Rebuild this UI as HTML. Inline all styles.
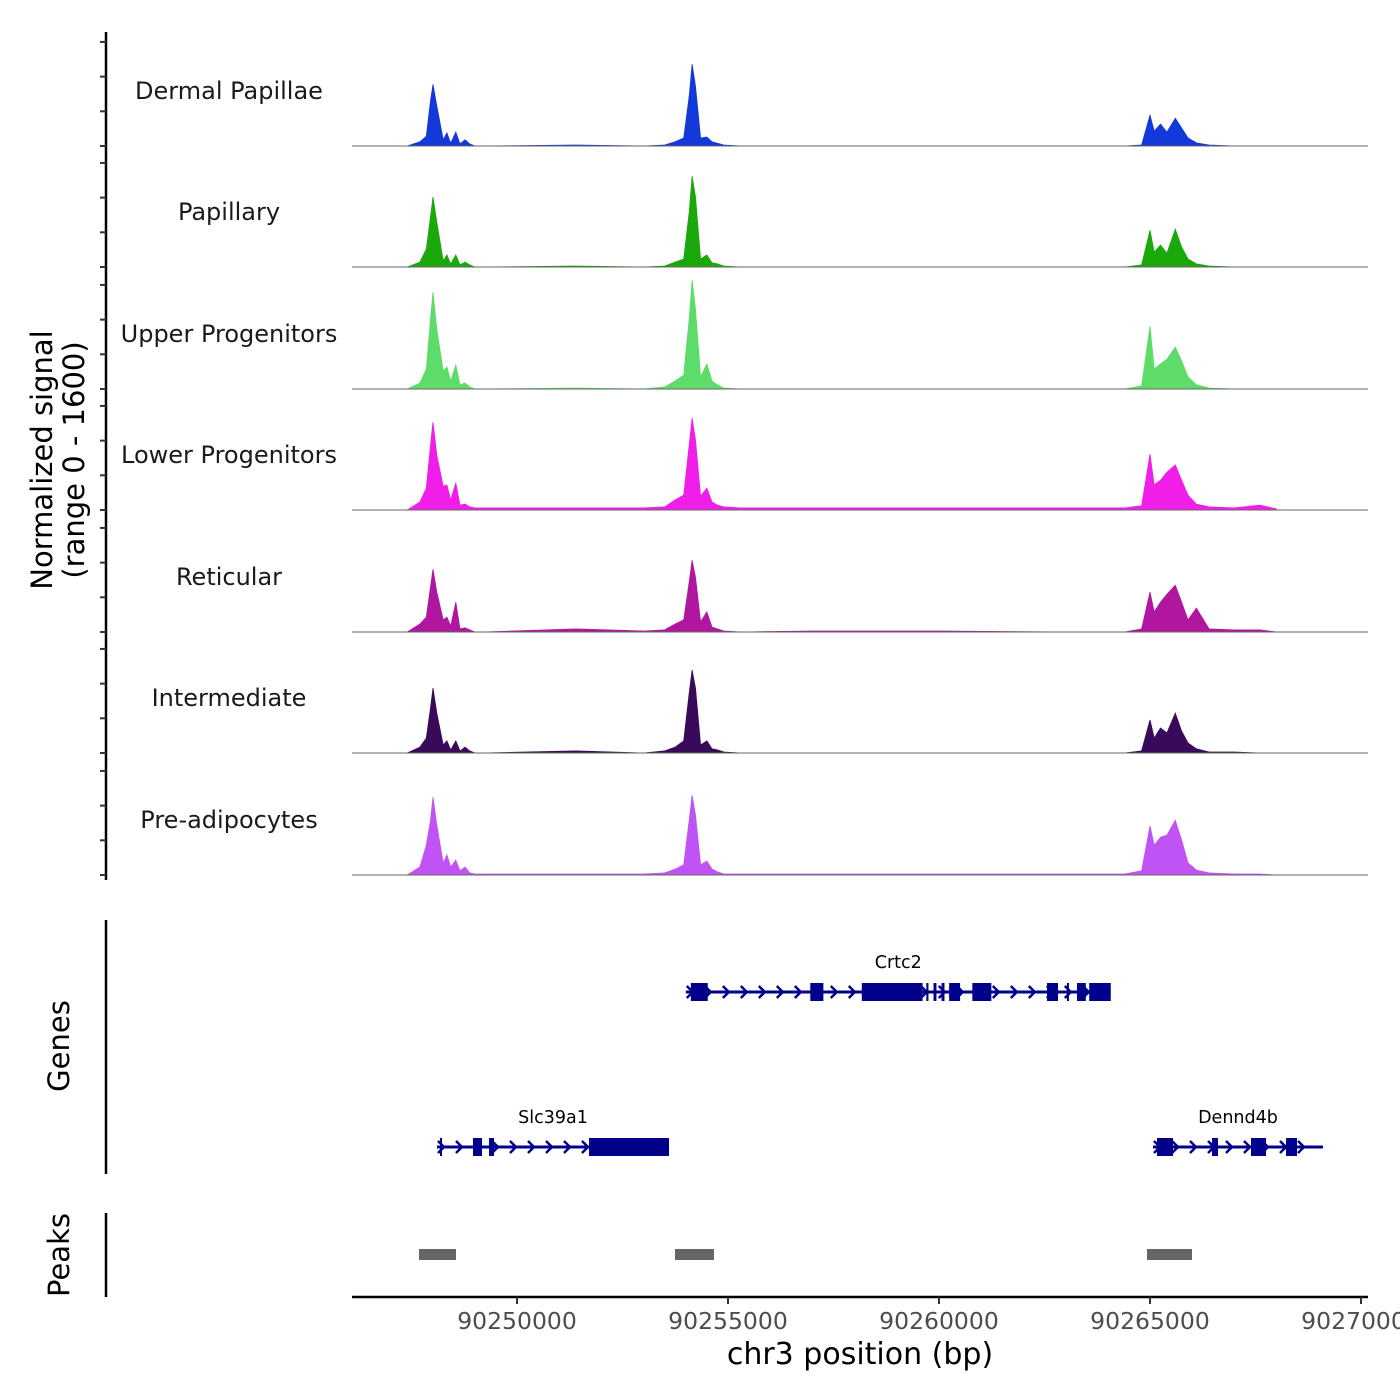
<!DOCTYPE html>
<html><head><meta charset="utf-8"><style>
html,body{margin:0;padding:0;background:#fff;}
svg{display:block;font-family:"DejaVu Sans","Liberation Sans",sans-serif;}
</style></head><body>
<svg id="chart" width="1400" height="1400" viewBox="0 0 1400 1400">
<g id="tracks"></g>
<g id="genes"></g>
<g id="peaks"></g>
<g id="axes"></g>
<text x="0" y="0" transform="translate(52,460) rotate(-90)" text-anchor="middle" font-size="29" fill="#000">Normalized signal</text>
<text x="0" y="0" transform="translate(84,460) rotate(-90)" text-anchor="middle" font-size="29" fill="#000">(range 0 - 1600)</text>
<text x="0" y="0" transform="translate(69,1046) rotate(-90)" text-anchor="middle" font-size="29" fill="#000">Genes</text>
<text x="0" y="0" transform="translate(69,1255) rotate(-90)" text-anchor="middle" font-size="29" fill="#000">Peaks</text>
<text x="860" y="1364" text-anchor="middle" font-size="30" fill="#000">chr3 position (bp)</text>
</svg>
<script>
const trackNames = ["Dermal Papillae","Papillary","Upper Progenitors","Lower Progenitors","Reticular","Intermediate","Pre-adipocytes"];
const trackColors = ["#1439d9","#1aa80a","#5edc6a","#f01ee8","#b0169f","#3a0a5a","#c053f5"];
const positions = [90247400,90247700,90247850,90247950,90248010,90248100,90248250,90248340,90248430,90248550,90248650,90248770,90248880,90249000,90249200,90251400,90253000,90253500,90253750,90253950,90254080,90254150,90254230,90254350,90254500,90254620,90254750,90254900,90255300,90257000,90260000,90263000,90264400,90264800,90265000,90265100,90265250,90265400,90265600,90265750,90265900,90266100,90266400,90267000,90267600,90268000];
const dermalValues = [0,60,140,650,890,580,90,190,40,200,30,90,30,0,0,15,0,15,60,115,720,1180,860,115,130,60,40,15,0,0,0,0,0,15,445,215,315,200,400,260,115,45,15,0,0,0];
const papillaryValues = [0,70,260,720,1010,650,90,175,45,175,30,70,30,0,0,15,0,15,70,115,790,1310,1010,115,175,60,45,15,0,0,0,0,0,30,530,215,315,200,545,290,115,45,15,0,0,0];
const upperValues = [0,85,290,1010,1400,865,260,315,115,345,60,85,30,0,0,15,0,30,115,200,1010,1570,1150,175,360,115,60,15,0,0,0,0,0,45,905,290,360,430,605,405,175,60,15,0,0,0];
const lowerValues = [0,115,315,935,1265,790,345,360,145,390,70,85,45,30,30,30,30,45,145,215,935,1325,1010,200,315,115,70,45,30,30,30,30,30,60,805,360,430,545,650,430,215,85,45,30,70,15];
const reticularValues = [0,115,215,650,905,575,175,215,85,430,45,60,30,0,0,45,15,30,115,175,720,1035,790,145,290,70,45,15,0,15,15,0,0,45,575,290,430,545,675,430,175,345,45,30,30,0];
const intermediateValues = [0,85,215,650,935,575,115,175,45,175,30,85,30,0,0,30,0,30,85,175,865,1195,935,115,175,60,45,15,0,0,0,0,0,30,475,215,360,290,575,315,145,60,15,15,0,0];
const preadipoValues = [0,115,430,790,1120,720,175,290,115,215,60,115,30,15,15,15,15,30,85,145,790,1150,865,145,200,85,45,15,15,15,15,15,15,60,705,430,545,575,790,505,175,70,30,15,15,0];
const seriesValues = [dermalValues,papillaryValues,upperValues,lowerValues,reticularValues,intermediateValues,preadipoValues];
const xTicks = [90250000,90255000,90260000,90265000,90270000];
const xTickLabels = ["90250000","90255000","90260000","90265000","90270000"];
const yTicks = [0,500,1000,1500];
const geneNames = ["Crtc2","Slc39a1","Dennd4b"];
const geneStarts = [90254000,90248104,90265071];
const geneEnds = [90264070,90253602,90269099];
const geneRows = [0,1,1];
const geneExons = [
 [[90254120,90254520],[90256950,90257260],[90258170,90259610],[90259700,90259750],[90259870,90259940],[90260060,90260130],[90260240,90260500],[90260790,90261240],[90262560,90262820],[90263030,90263080],[90263270,90263480],[90263560,90264070]],
 [[90248175,90248223],[90248957,90249171],[90249337,90249455],[90251706,90253602]],
 [[90265166,90265545],[90266469,90266611],[90267393,90267749],[90268223,90268483]]
];
const peakStarts = [90247678,90253744,90264929];
const peakEnds = [90248554,90254668,90265995];

const NS="http://www.w3.org/2000/svg";
const X0=352, X1=1368, D0=90246090, D1=90270166;
function xs(v){return X0+(v-D0)/(D1-D0)*(X1-X0);}
const baselines=[146,267,389,510,632,753,875];
function ys(v,i){return baselines[i]-v/1600*111;}
function mk(tag,attrs,parent){const e=document.createElementNS(NS,tag);for(const k in attrs)e.setAttribute(k,attrs[k]);parent.appendChild(e);return e;}

const tracks=document.getElementById('tracks');
seriesValues.forEach((vals,i)=>{
  const g=mk('g',{},tracks);
  
  
  let d='M'+xs(positions[0])+','+baselines[i];
  positions.forEach((p,j)=>{d+=' L'+xs(p).toFixed(1)+','+ys(vals[j],i).toFixed(1);});
  d+=' L'+xs(positions[positions.length-1])+','+baselines[i]+' Z';
  const a=mk('path',{d:d,fill:trackColors[i],stroke:trackColors[i],'stroke-width':0.8},g);
  
  
  const l=mk('line',{x1:X0,x2:X1,y1:baselines[i],y2:baselines[i],stroke:'#666','stroke-width':1},g);
  
  
  const t=mk('text',{x:229,y:baselines[i]-47,'text-anchor':'middle','font-size':24,fill:'#1a1a1a'},g);
  t.textContent=trackNames[i];
  
  
});

const axes=document.getElementById('axes');
const ya=mk('line',{x1:106,x2:106,y1:32,y2:880,stroke:'#000','stroke-width':2.5},axes);


baselines.forEach((b,i)=>{yTicks.forEach(t=>{
  const tk=mk('line',{x1:100,x2:106,y1:ys(t,i),y2:ys(t,i),stroke:'#333','stroke-width':2},axes);
  
  
});});
const ga=mk('line',{x1:106,x2:106,y1:920,y2:1174,stroke:'#000','stroke-width':2.5},axes);


const pa=mk('line',{x1:106,x2:106,y1:1213,y2:1297,stroke:'#000','stroke-width':2.5},axes);


const xa=mk('line',{x1:X0,x2:X1,y1:1297,y2:1297,stroke:'#000','stroke-width':2.5},axes);


xTicks.forEach((t,i)=>{
  const tk=mk('line',{x1:xs(t),x2:xs(t),y1:1297,y2:1304,stroke:'#333','stroke-width':2},axes);
  
  
  const tl=mk('text',{x:xs(t),y:1329,'text-anchor':'middle','font-size':23.5,fill:'#4d4d4d'},axes);
  tl.textContent=xTickLabels[i];
  
  
});

const genes=document.getElementById('genes');
const rowY=[992,1147];
geneNames.forEach((n,i)=>{
  const g=mk('g',{},genes);
  
  
  const y=rowY[geneRows[i]], xa0=xs(geneStarts[i]), xa1=xs(geneEnds[i]);
  mk('line',{x1:xa0,x2:xa1,y1:y,y2:y,stroke:'#00008b','stroke-width':3},g);
  for(let x=xa0+4;x<xa1-4;x+=18){
    mk('path',{d:`M${x-3},${y-6} L${x+3},${y} L${x-3},${y+6}`,fill:'none',stroke:'#00008b','stroke-width':2.5},g);
  }
  geneExons[i].forEach(e=>{
    mk('rect',{x:xs(e[0]),y:y-9,width:Math.max(2,xs(e[1])-xs(e[0])),height:18,fill:'#00008b'},g);
  });
  const t=mk('text',{x:(xa0+xa1)/2,y:y-24,'text-anchor':'middle','font-size':17.5,fill:'#000'},g);
  t.textContent=n;
  
  
});

const peaks=document.getElementById('peaks');
peakStarts.forEach((s,i)=>{
  const r=mk('rect',{x:xs(s),y:1249,width:xs(peakEnds[i])-xs(s),height:11,fill:'#666'},peaks);
  
  
});
</script>
</body></html>
